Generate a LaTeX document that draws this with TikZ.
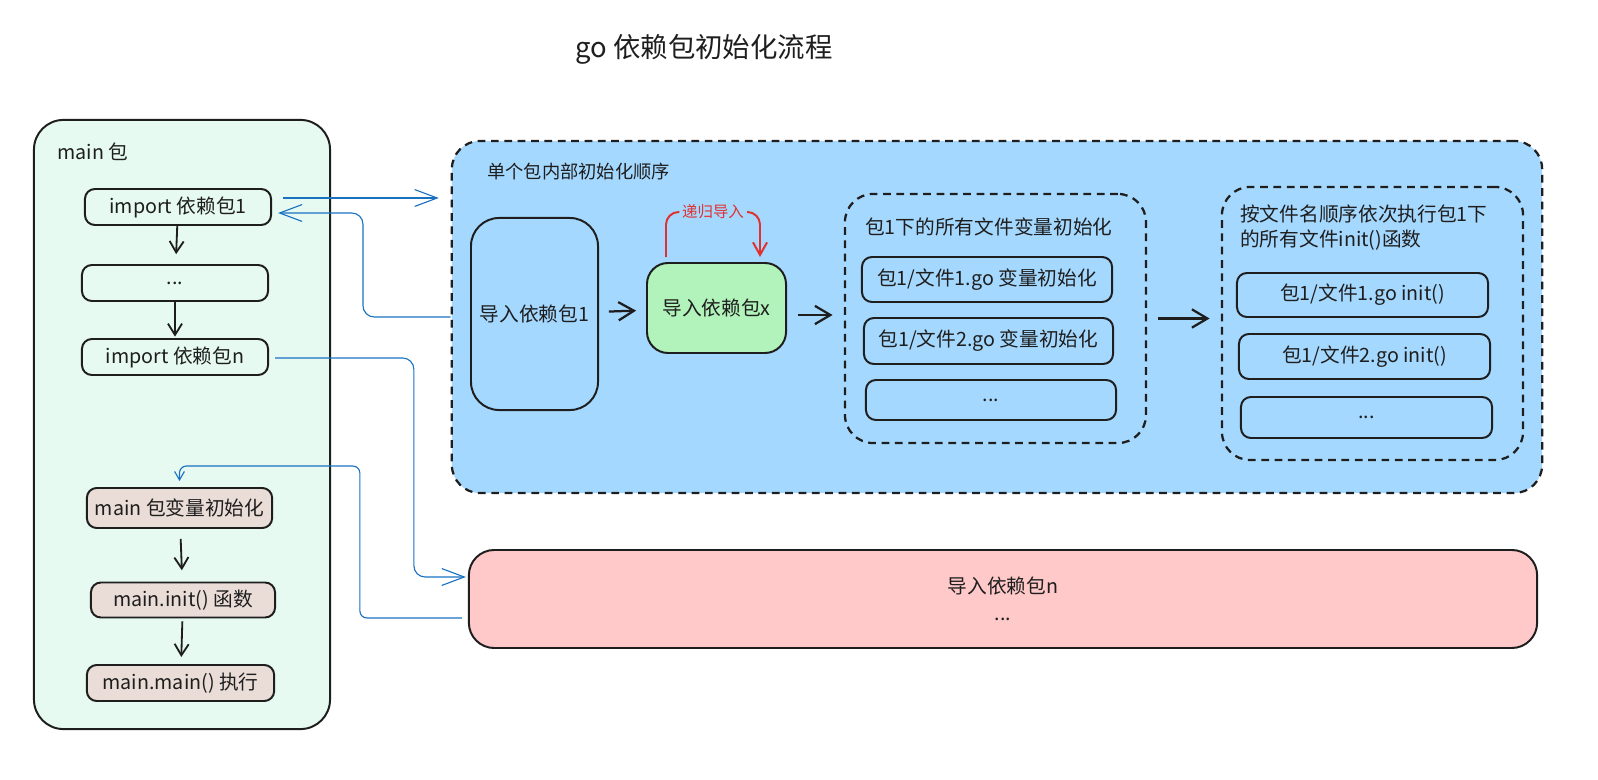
\documentclass[tikz,border=0pt]{standalone}
\usepackage{fontspec}
\setmainfont{Noto Sans CJK SC}
\usetikzlibrary{arrows.meta,calc}
\definecolor{inkc}{HTML}{1E1E1E}
\definecolor{mintc}{HTML}{E6FAF2}
\definecolor{skyc}{HTML}{A5D8FF}
\definecolor{leafc}{HTML}{B2F2BB}
\definecolor{rosec}{HTML}{FFC9C9}
\definecolor{sandc}{HTML}{EADDD7}
\definecolor{linkc}{HTML}{1971C2}
\definecolor{recc}{HTML}{E03131}
\tikzset{
    boxbase/.style={ % 基本方框
        draw=inkc,
        line width=1.4pt,
        rounded corners=7pt,
        align=center,
        text=inkc,
        inner sep=0pt,
        font=\fontsize{14}{17}\selectfont
    },
    stepbox/.style={ % main 包里的步骤
        boxbase,
        minimum width=4.65cm,
        minimum height=0.9cm
    },
    filebox/.style={ % 包1下的文件
        boxbase,
        minimum width=6.25cm
    },
    groupbox/.style={ % 虚线分组
        draw=inkc,
        line width=1.6pt,
        dash pattern=on 5.5pt off 4pt,
        rounded corners=20pt,
        inner sep=0pt
    },
    flow/.style={ % 黑色箭头
        draw=inkc,
        line width=1.3pt,
        -{Straight Barb[length=8pt,width=10pt]}
    },
    bigflow/.style={ % 蓝框里的黑色箭头
        draw=inkc,
        line width=1.6pt,
        -{Straight Barb[length=11pt,width=13pt]}
    },
    link/.style={ % 蓝色连线
        draw=linkc,
        line width=0.8pt,
        rounded corners=8pt,
        -{Straight Barb[length=16pt,width=12pt]}
    },
    labeltext/.style={ % 框内标题
        text=inkc,
        inner sep=0pt,
        anchor=west,
        font=\fontsize{14}{17.8}\selectfont
    }
}

\begin{document}
\begin{tikzpicture}[x=0.025cm, y=-0.025cm]

        \useasboundingbox (0,0) rectangle (1598,780);

        \node [text=inkc, font=\fontsize{19.5}{22}\selectfont] (title) at (704,49) {go 依赖包初始化流程};

        % main 包
        \node [boxbase, fill=mintc, rounded corners=21pt, minimum width=7.4cm, minimum height=15.225cm] (mainpkg) at (182,424.5) {};
        \node [labeltext] (mainlabel) at (57,152) {main 包};
        \node [stepbox] (import1) at (178,207) {import 依赖包1};
        \node [stepbox] (dots1) at (175,283) {...};
        \node [stepbox] (importn) at (175,357) {import 依赖包n};
        \node [stepbox, fill=sandc, minimum width=4.63cm, minimum height=1cm] (mainvar) at (179.5,508) {main 包变量初始化};
        \node [stepbox, fill=sandc, minimum width=4.6cm, minimum height=0.875cm] (maininit) at (183,600) {main.init() 函数};
        \node [stepbox, fill=sandc, minimum width=4.68cm] (mainmain) at (180.5,683) {main.main() 执行};

        \draw [flow, shorten >=7pt] (import1) -- (dots1);
        \draw [flow, shorten >=1pt] (dots1) -- (importn);
        \draw [flow, shorten <=7pt, shorten >=8pt] (mainvar) -- (maininit);
        \draw [flow, shorten <=2pt, shorten >=5pt] (maininit) -- (mainmain);

        % 单个包内部初始化顺序
        \node [groupbox, fill=skyc, minimum width=27.25cm, minimum height=8.8cm] (bluebox) at (997,317) {};
        \node [labeltext, font=\fontsize{13}{16}\selectfont] (bluetitle) at (487,172) {单个包内部初始化顺序};
        \node [boxbase, rounded corners=20pt, minimum width=3.175cm, minimum height=4.8cm] (dep1) at (534.5,314) {导入依赖包1};
        \node [boxbase, fill=leafc, rounded corners=15pt, minimum width=3.475cm, minimum height=2.25cm] (depx) at (716.5,308) {导入依赖包x};

        \node [groupbox, minimum width=7.525cm, minimum height=6.225cm] (vargroup) at (995.5,318.5) {};
        \node [labeltext] (vartitle) at (865,227) {包1下的所有文件变量初始化};
        \node [filebox, minimum height=1.125cm] (var1) at (987,279.5) {包1/文件1.go 变量初始化};
        \node [filebox, minimum width=6.225cm, minimum height=1.15cm] (var2) at (988.5,341) {包1/文件2.go 变量初始化};
        \node [filebox, minimum height=1cm] (var3) at (991,400) {...};

        \node [groupbox, minimum width=7.525cm, minimum height=6.825cm] (initgroup) at (1372.5,323.5) {};
        \node [labeltext, align=left] (inittitle) at (1240,227.5) {按文件名顺序依次执行包1下\\的所有文件init()函数};
        \node [filebox, minimum width=6.275cm, minimum height=1.1cm] (init1) at (1362.5,295) {包1/文件1.go init()};
        \node [filebox, minimum width=6.275cm, minimum height=1.125cm] (init2) at (1364.5,356.5) {包1/文件2.go init()};
        \node [filebox, minimum width=6.275cm, minimum height=1.025cm] (init3) at (1366.5,417.5) {...};

        \draw [bigflow, shorten <=7pt, shorten >=7pt] (dep1) -- (depx);
        \draw [bigflow, shorten <=8pt, shorten >=8pt] ($(depx.east)+(0,7)$) -- ($(depx.east -| vargroup.west)+(0,7)$);
        \draw [bigflow, shorten <=8pt, shorten >=8pt] (vargroup.east) -- (vargroup.east -| initgroup.west);

        % 递归导入
        \coordinate (r1) at ($(depx.north west)+(20,-5)$);
        \coordinate (r2) at ($(depx.north east)+(-27,-5)$);
        \draw [draw=recc, line width=1.4pt, rounded corners=9pt, -{Straight Barb[length=9pt,width=10pt]}]
            (r1) |- ($(r1)!.5!(r2)+(0,-45)$)
            node [fill=skyc, text=recc, inner sep=2pt, font=\fontsize{11}{13}\selectfont] (reclabel) {递归导入}
            -| (r2);

        % 导入依赖包n
        \node [boxbase, fill=rosec, rounded corners=18pt, minimum width=26.7cm, minimum height=2.45cm, font=\fontsize{14}{19}\selectfont] (pink) at (1003,599) {导入依赖包n\\...};

        % 蓝色连线
        \coordinate (a1) at ($(import1.east)+(11,-9)$);
        \draw [link, shorten >=8.5pt] (a1) -- (a1 -| bluebox.west);
        \coordinate (b1) at ($(import1.east)+(6,6)$);
        \draw [link] (bluebox.west) -| ($(b1)+(85,0)$) -- (b1);
        \coordinate (c1) at ($(importn.east)+(6,1)$);
        \coordinate (c2) at ($(pink.west)+(-2,-22)$);
        \draw [link] (c1) -| ($(c2)+(-52,0)$) -- (c2);
        \coordinate (d1) at ($(pink.west)+(-6,19)$);
        \coordinate (d2) at ($(mainvar.north)+(0,-6)$);
        \draw [link, rounded corners=5pt, -{Straight Barb[length=6pt,width=7pt]}] (d1) -| ($(d1)+(-102,-152)$) -| (d2);

\end{tikzpicture}
\end{document}
